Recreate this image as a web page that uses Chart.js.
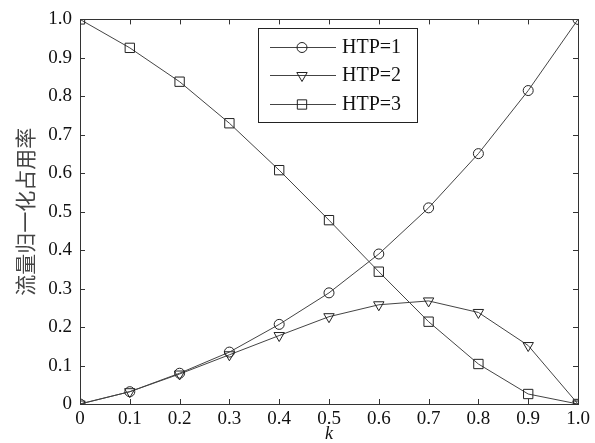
<!DOCTYPE html>
<html>
<head>
<meta charset="utf-8">
<script src="https://cdn.jsdelivr.net/npm/chart.js@4/dist/chart.umd.min.js"></script>
<style>
  html, body { margin: 0; padding: 0; background: #fff; }
  #wrap { width: 595px; height: 443px; }
</style>
</head>
<body>
<div id="wrap"><canvas id="myChart" width="595" height="443"></canvas></div>
<script>
'use strict'

// DATA
const kValues = [0, 0.1, 0.2, 0.3, 0.4, 0.5, 0.6, 0.7, 0.8, 0.9, 1.0];
const htp1 = [0, 0.032, 0.080, 0.135, 0.207, 0.289, 0.390, 0.510, 0.651, 0.815, 1.0];
const htp2 = [0, 0.032, 0.078, 0.128, 0.178, 0.227, 0.258, 0.268, 0.238, 0.152, 0];
const htp3 = [1.0, 0.926, 0.838, 0.730, 0.608, 0.478, 0.344, 0.214, 0.104, 0.026, 0];
const seriesNames = ['HTP=1', 'HTP=2', 'HTP=3'];
const xTickLabels = ['0', '0.1', '0.2', '0.3', '0.4', '0.5', '0.6', '0.7', '0.8', '0.9', '1.0'];
const yTickLabels = ['0', '0.1', '0.2', '0.3', '0.4', '0.5', '0.6', '0.7', '0.8', '0.9', '1.0'];
const xTitle = 'k';
const yTitle = '流量归一化占用率';

const SERIF = '"Liberation Serif", "Times New Roman", serif';
const LINE = '#444';
const MARK = '#222';

function toPoints(values) {
  return kValues.map((k, i) => ({ x: k, y: values[i] }));
}

function makeSet(label, values, style, radius, rotation) {
  return {
    label: label,
    data: toPoints(values),
    borderColor: LINE,
    borderWidth: 1,
    pointStyle: style,
    pointRadius: radius,
    pointRotation: rotation,
    pointBorderColor: MARK,
    pointBorderWidth: 1,
    pointBackgroundColor: 'rgba(0,0,0,0)',
    tension: 0,
    fill: false
  };
}

// draws the box, inward ticks and the legend like a matlab figure
const framePlugin = {
  id: 'frame',
  afterDraw(chart) {
    const ctx = chart.ctx;
    const a = chart.chartArea;
    const xs = chart.scales.x;
    const ys = chart.scales.y;
    ctx.save();
    ctx.strokeStyle = '#333';
    ctx.lineWidth = 1;
    ctx.strokeRect(Math.round(a.left) + 0.5, Math.round(a.top) + 0.5,
      Math.round(a.right - a.left), Math.round(a.bottom - a.top));

    const len = 5;
    ctx.beginPath();
    for (let i = 0; i < kValues.length; i++) {
      let px = Math.round(xs.getPixelForValue(kValues[i])) + 0.5;
      ctx.moveTo(px, a.bottom);
      ctx.lineTo(px, a.bottom - len);
      ctx.moveTo(px, a.top);
      ctx.lineTo(px, a.top + len);
    }
    for (let i = 0; i < yTickLabels.length; i++) {
      let py = Math.round(ys.getPixelForValue(i / 10)) + 0.5;
      ctx.moveTo(a.left, py);
      ctx.lineTo(a.left + len, py);
      ctx.moveTo(a.right, py);
      ctx.lineTo(a.right - len, py);
    }
    ctx.stroke();

    // legend
    const bx = 258, by = 28, bw = 159, bh = 94;
    ctx.fillStyle = '#fff';
    ctx.fillRect(bx, by, bw, bh);
    ctx.strokeStyle = '#222';
    ctx.strokeRect(bx + 0.5, by + 0.5, bw, bh);
    const rows = [47, 75, 104];
    ctx.font = '20px ' + SERIF;
    ctx.textBaseline = 'middle';
    ctx.textAlign = 'left';
    chart.data.datasets.forEach((ds, i) => {
      let y = rows[i] + 0.5;
      ctx.strokeStyle = LINE;
      ctx.beginPath();
      ctx.moveTo(270, y);
      ctx.lineTo(336, y);
      ctx.stroke();
      ctx.strokeStyle = MARK;
      ctx.fillStyle = 'rgba(0,0,0,0)';
      Chart.helpers.drawPoint(ctx, {
        pointStyle: ds.pointStyle,
        radius: ds.pointRadius,
        rotation: ds.pointRotation,
        borderWidth: 1
      }, 302, y);
      ctx.fillStyle = '#111';
      ctx.fillText(ds.label, 342, rows[i] + 1);
    });
    ctx.restore();
  }
};

let canvasChart = document.getElementById('myChart');
const myChart = new Chart(canvasChart, {
  type: 'line',
  data: {
    datasets: [
      makeSet(seriesNames[0], htp1, 'circle', 5, 0),
      makeSet(seriesNames[1], htp2, 'triangle', 6, 180),
      makeSet(seriesNames[2], htp3, 'rect', 6.6, 0)
    ]
  },
  options: {
    responsive: false,
    animation: false,
    layout: { padding: { left: 0, right: 17, top: 14, bottom: 0 } },
    plugins: {
      legend: { display: false },
      tooltip: { enabled: false }
    },
    scales: {
      x: {
        type: 'linear',
        min: 0,
        max: 1,
        afterFit: (scale) => { scale.height = 39; },
        afterBuildTicks: (scale) => { scale.ticks = kValues.map(v => ({ value: v })); },
        grid: { drawOnChartArea: false, drawTicks: false },
        border: { display: false },
        ticks: {
          color: '#111',
          padding: 4,
          maxRotation: 0,
          autoSkip: false,
          font: { family: SERIF, size: 19 },
          callback: (v, i) => xTickLabels[i]
        },
        title: {
          display: true,
          text: xTitle,
          color: '#111',
          padding: { top: 0, bottom: -2 },
          font: { family: SERIF, size: 18, style: 'italic' }
        }
      },
      y: {
        type: 'linear',
        min: 0,
        max: 1,
        afterFit: (scale) => { scale.width = 80; },
        afterBuildTicks: (scale) => { scale.ticks = yTickLabels.map((t, i) => ({ value: i / 10 })); },
        grid: { drawOnChartArea: false, drawTicks: false },
        border: { display: false },
        ticks: {
          color: '#111',
          padding: 8,
          autoSkip: false,
          font: { family: SERIF, size: 19 },
          callback: (v, i) => yTickLabels[i]
        },
        title: {
          display: true,
          text: yTitle,
          color: '#444',
          padding: { top: 12, bottom: 0 },
          font: { family: '"Noto Sans CJK SC", sans-serif', size: 21 }
        }
      }
    }
  },
  plugins: [framePlugin]
});
</script>
</body>
</html>
